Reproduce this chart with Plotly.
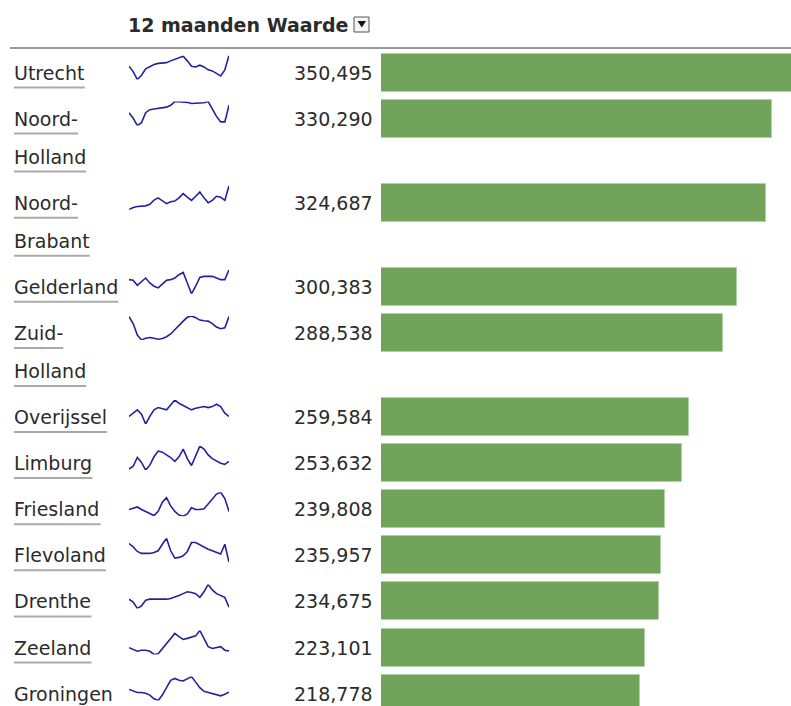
import plotly.graph_objects as go

# Provincies, 12 maanden waarde en maandelijks verloop (sparkline)
provinces = ["Utrecht", "Noord-Holland", "Noord-Brabant", "Gelderland", "Zuid-Holland",
             "Overijssel", "Limburg", "Friesland", "Flevoland", "Drenthe", "Zeeland", "Groningen"]
values = [350495, 330290, 324687, 300383, 288538, 259584, 253632, 239808, 235957, 234675, 223101, 218778]

trend_utrecht = [55, 40, 18, 30, 48, 55, 60, 63, 63, 65, 70, 75, 80, 83, 70, 55, 53, 58, 53, 45, 42, 35, 28, 45, 85]
trend_noord_holland = [65, 50, 30, 38, 65, 73, 75, 77, 78, 80, 85, 95, 95, 95, 93, 90, 90, 90, 92, 95, 75, 55, 40, 40, 85]
trend_noord_brabant = [13, 20, 23, 25, 25, 30, 43, 50, 42, 32, 38, 40, 50, 63, 52, 42, 55, 68, 50, 35, 42, 55, 52, 42, 88]
trend_gelderland = [55, 53, 38, 48, 60, 45, 35, 30, 42, 53, 55, 60, 70, 77, 45, 12, 35, 62, 65, 65, 65, 60, 55, 55, 85]
trend_zuid_holland = [75, 55, 22, 8, 13, 15, 13, 10, 12, 17, 25, 38, 50, 62, 73, 77, 72, 65, 63, 62, 55, 45, 40, 43, 75]
trend_overijssel = [35, 45, 55, 42, 12, 35, 55, 62, 58, 55, 70, 85, 75, 68, 62, 55, 60, 62, 65, 62, 65, 72, 65, 45, 35]
trend_limburg = [18, 25, 48, 35, 15, 28, 50, 65, 62, 55, 48, 38, 50, 70, 45, 27, 55, 78, 70, 55, 45, 38, 33, 30, 38]
trend_friesland = [30, 33, 37, 30, 25, 20, 14, 25, 50, 62, 40, 25, 15, 12, 18, 35, 30, 30, 32, 45, 60, 72, 77, 60, 25]
trend_flevoland = [67, 57, 43, 37, 37, 37, 40, 45, 65, 83, 45, 23, 25, 30, 43, 70, 70, 63, 57, 50, 45, 40, 35, 65, 10]
trend_drenthe = [35, 27, 10, 17, 32, 35, 35, 35, 33, 35, 37, 40, 45, 50, 55, 53, 50, 40, 55, 75, 60, 50, 45, 40, 13]
trend_zeeland = [27, 22, 17, 20, 20, 17, 8, 10, 25, 40, 55, 67, 58, 50, 53, 57, 60, 75, 53, 30, 25, 27, 30, 20, 18]
trend_groningen = [40, 35, 32, 32, 30, 25, 15, 10, 25, 45, 65, 70, 65, 63, 70, 75, 60, 45, 35, 32, 30, 25, 23, 27, 33]

trends = [trend_utrecht, trend_noord_holland, trend_noord_brabant, trend_gelderland, trend_zuid_holland,
          trend_overijssel, trend_limburg, trend_friesland, trend_flevoland, trend_drenthe,
          trend_zeeland, trend_groningen]

header = "12 maanden Waarde"

W, H = 791, 706
FONT = "DejaVu Sans"
TEXT = "#2b2b2b"
GREEN = "#70a45a"
NAVY = "#22229e"

# rough DejaVu Sans advance widths (em) for the underline lengths
CHAR_W = {"U": .732, "t": .392, "r": .411, "e": .615, "c": .550, "h": .634, "N": .748, "o": .612,
          "d": .635, "-": .361, "H": .752, "l": .278, "a": .613, "B": .686, "b": .635, "n": .634,
          "G": .775, "Z": .685, "u": .634, "i": .278, "O": .787, "v": .592, "j": .278, "s": .521,
          "L": .557, "m": .974, "g": .635, "F": .575, "f": .352, "D": .770, "z": .525}


def text_width(s, size):
    return sum(CHAR_W.get(ch, .6) for ch in s) * size


def split_label(name):
    if "-" in name:
        head, tail = name.split("-", 1)
        return [head + "-", tail]
    return [name]


def px(x):
    # horizontal pixel -> paper fraction (margins are zero)
    return x / W


# row centres in pixels: two-line labels make the row taller
centers = []
c = 72.5
for name in provinces:
    centers.append(c)
    c += 46.1 + 38 * (len(split_label(name)) - 1)

fig = go.Figure()

fig.add_trace(go.Bar(
    x=values, y=centers, orientation="h", width=38,
    marker=dict(color=GREEN, line=dict(color="#b3d1a6", width=1)),
    xaxis="x", yaxis="y", hoverinfo="skip",
))

layout_axes = {}
for i, (trend, cy) in enumerate(zip(trends, centers)):
    ax = i + 2
    fig.add_trace(go.Scatter(
        x=list(range(len(trend))), y=trend, mode="lines",
        line=dict(color=NAVY, width=1.6), xaxis="x2", yaxis=f"y{ax}", hoverinfo="skip",
    ))
    layout_axes[f"yaxis{ax}"] = dict(
        domain=[1 - (cy + 7) / H, 1 - (cy - 17) / H],
        range=[min(trend), max(trend)], visible=False, anchor="x2", fixedrange=True,
    )

annotations = [dict(
    text=f"<b>{header}</b>", x=px(126), xref="paper", y=24.5, yref="y",
    xanchor="left", yanchor="middle", showarrow=False, font=dict(family=FONT, size=19, color=TEXT),
)]
tri = f"M {px(357.5)} 21 L {px(366)} 21 L {px(361.8)} 27.5 Z"
shapes = [
    dict(type="line", xref="paper", yref="y", x0=px(10), x1=1, y0=48, y1=48,
         line=dict(color="#999999", width=2)),
    dict(type="rect", xref="paper", yref="y", x0=px(354), x1=px(369), y0=17, y1=32,
         line=dict(color="#555555", width=1), fillcolor="#f4f4f4"),
    dict(type="path", xref="paper", yref="y", path=tri, line=dict(width=0), fillcolor="#111111"),
]

for name, val, cy in zip(provinces, values, centers):
    annotations.append(dict(
        text=f"{val:,}", x=0, xref="x", y=cy, yref="y", xanchor="right", yanchor="middle",
        xshift=-6, showarrow=False, font=dict(family=FONT, size=19, color=TEXT),
    ))
    for j, part in enumerate(split_label(name)):
        ly = cy + 38 * j
        annotations.append(dict(
            text=part, x=px(12), xref="paper", y=ly, yref="y", xanchor="left", yanchor="middle",
            showarrow=False, font=dict(family=FONT, size=19, color=TEXT),
        ))
        shapes.append(dict(
            type="line", xref="paper", yref="y", x0=px(14), x1=px(14 + text_width(part, 19)),
            y0=ly + 15, y1=ly + 15, line=dict(color="#aaaaaa", width=2),
        ))

fig.update_layout(
    width=W, height=H,
    margin=dict(l=0, r=0, t=0, b=0, pad=0),
    paper_bgcolor="white", plot_bgcolor="white",
    showlegend=False, bargap=0,
    xaxis=dict(domain=[381 / W, 1], range=[0, 346000], visible=False, anchor="y", fixedrange=True),
    xaxis2=dict(domain=[129 / W, 229 / W], range=[0, 24], visible=False, anchor="y2", fixedrange=True),
    yaxis=dict(domain=[0, 1], range=[H, 0], visible=False, fixedrange=True),
    annotations=annotations,
    shapes=shapes,
    **layout_axes,
)

fig.write_html("out.html", config={"displayModeBar": False},
               post_script="document.body.style.margin='0';")
